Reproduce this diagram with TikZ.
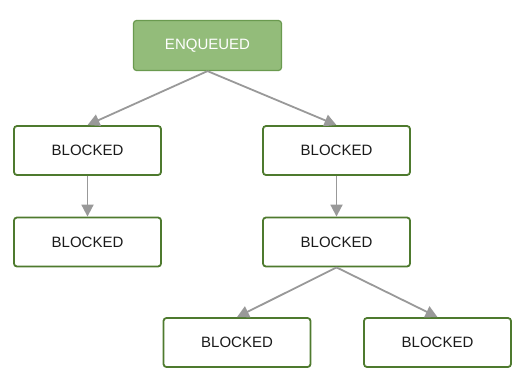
\documentclass[tikz,border=0pt]{standalone}
\usepackage{fontspec}
\setmainfont{Liberation Sans}
\usetikzlibrary{arrows.meta}
\definecolor{boxborder}{HTML}{4E7A2E}
\definecolor{enqfill}{HTML}{93BC7A}
\definecolor{enqborder}{HTML}{6A9A4F}
\definecolor{arrowgray}{HTML}{999999}
\definecolor{textdark}{HTML}{1A1A1A}
\tikzset{
  blockbox/.style={draw=boxborder, line width=1.8pt, fill=white, rounded corners=3pt,
    minimum width=147pt, minimum height=49pt, inner sep=0pt, text=textdark,
    font=\fontsize{15}{18}\selectfont},
  enqbox/.style={draw=enqborder, line width=1.2pt, fill=enqfill, rounded corners=3pt,
    minimum width=148pt, minimum height=50pt, inner sep=0pt, text=white,
    font=\fontsize{15}{18}\selectfont},
  conn/.style={draw=arrowgray, line width=1.8pt, -{Triangle[length=12pt,width=12pt]}}
}
\begin{document}
\begin{tikzpicture}[x=1pt,y=-1pt]
\useasboundingbox (0,0) rectangle (527,388);
\node[enqbox] (enq) at (207.5,45.5) {ENQUEUED};
\node[blockbox] (lt) at (87.5,150.5) {BLOCKED};
\node[blockbox] (rt) at (336.5,150.5) {BLOCKED};
\node[blockbox] (lb) at (87.5,242) {BLOCKED};
\node[blockbox] (rb) at (336.5,242) {BLOCKED};
\node[blockbox] (bl) at (237,342.5) {BLOCKED};
\node[blockbox] (br) at (437.5,342.5) {BLOCKED};
\draw[conn] (enq.south) -- (lt.north);
\draw[conn] (enq.south) -- (rt.north);
\draw[conn] (lt.south) -- (lb.north);
\draw[conn] (rt.south) -- (rb.north);
\draw[conn] (rb.south) -- (bl.north);
\draw[conn] (rb.south) -- (br.north);
\end{tikzpicture}
\end{document}
